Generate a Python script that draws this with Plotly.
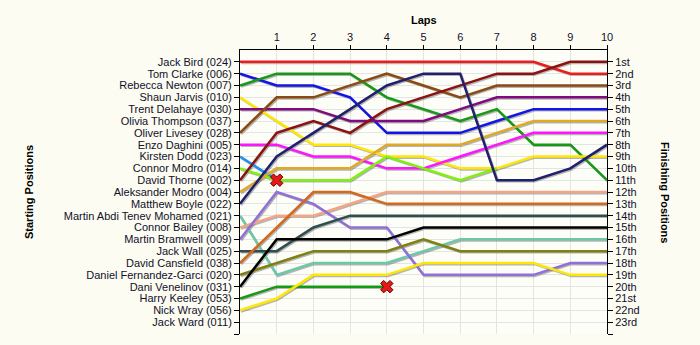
import plotly.graph_objects as go

# Lap numbers (0 = grid/start)
laps = [0, 1, 2, 3, 4, 5, 6, 7, 8, 9, 10]

# Drivers in starting-grid order
drivers = [
    "Jack Bird (024)", "Tom Clarke (006)", "Rebecca Newton (007)", "Shaun Jarvis (010)",
    "Trent Delahaye (030)", "Olivia Thompson (037)", "Oliver Livesey (028)",
    "Enzo Daghini (005)", "Kirsten Dodd (023)", "Connor Modro (014)", "David Thorne (002)",
    "Aleksander Modro (004)", "Matthew Boyle (022)", "Martin Abdi Tenev Mohamed (021)",
    "Connor Bailey (008)", "Martin Bramwell (009)", "Jack Wall (025)",
    "David Cansfield (038)", "Daniel Fernandez-Garci (020)", "Dani Venelinov (031)",
    "Harry Keeley (053)", "Nick Wray (056)", "Jack Ward (011)",
]

finish_labels = [
    "1st", "2nd", "3rd", "4th", "5th", "6th", "7th", "8th", "9th", "10th", "11th",
    "12th", "13th", "14th", "15th", "16th", "17th", "18th", "19th", "20th", "21st",
    "22nd", "23rd",
]

# Position at each lap (None = no longer running)
pos_jack_bird = [1, 1, 1, 1, 1, 1, 1, 1, 1, 2, 2]
pos_tom_clarke = [2, 3, 3, 4, 7, 7, 7, 6, 5, 5, 5]
pos_rebecca_newton = [3, 2, 2, 2, 4, 5, 6, 5, 8, 8, 11]
pos_shaun_jarvis = [4, 6, 8, 8, 9, 9, 10, 10, 9, 9, 9]
pos_trent_delahaye = [5, 5, 5, 6, 6, 6, 5, 4, 4, 4, 4]
pos_oliver_livesey = [7, 4, 4, 3, 2, 3, 4, 3, 3, 3, 3]
pos_enzo_daghini = [8, 8, 9, 9, 10, 10, 9, 8, 7, 7, 7]
pos_kirsten_dodd = [9, 11, None, None, None, None, None, None, None, None, None]
pos_connor_modro = [10, 11, 11, 11, 9, 10, 11, 10, None, None, None]
pos_david_thorne = [11, 7, 6, 7, 5, 4, 3, 2, 2, 1, 1]
pos_aleksander_modro = [12, 10, 10, 10, 8, 8, 8, 7, 6, 6, 6]
pos_matthew_boyle = [13, 9, 7, 5, 3, 2, 2, 11, 11, 10, 8]
pos_martin_mohamed = [14, 19, 18, 18, 18, 17, 16, 16, 16, 16, 16]
pos_connor_bailey = [15, 14, 14, 13, 12, 12, 12, 12, 12, 12, 12]
pos_martin_bramwell = [16, 12, 13, 15, 15, 19, 19, 19, 19, 18, 18]
pos_jack_wall = [17, 17, 15, 14, 14, 14, 14, 14, 14, 14, 14]
pos_david_cansfield = [18, 15, 12, 12, 13, 13, 13, 13, 13, 13, 13]
pos_daniel_fernandez = [19, 18, 17, 17, 17, 16, 17, 17, 17, 17, 17]
pos_dani_venelinov = [20, 16, 16, 16, 16, 15, 15, 15, 15, 15, 15]
pos_harry_keeley = [21, 20, 20, 20, 20, None, None, None, None, None, None]
pos_nick_wray = [22, 21, 19, 19, 19, 18, 18, 18, 18, 19, 19]

# (driver, positions, colour); drawn in this order
series = [
    ("Jack Bird (024)", pos_jack_bird, "#ee1c1c"),
    ("Tom Clarke (006)", pos_tom_clarke, "#1414e6"),
    ("Rebecca Newton (007)", pos_rebecca_newton, "#159a15"),
    ("Shaun Jarvis (010)", pos_shaun_jarvis, "#ffe60a"),
    ("Trent Delahaye (030)", pos_trent_delahaye, "#800a80"),
    ("Oliver Livesey (028)", pos_oliver_livesey, "#8b4a12"),
    ("Enzo Daghini (005)", pos_enzo_daghini, "#ff14ff"),
    ("Kirsten Dodd (023)", pos_kirsten_dodd, "#2090f0"),
    ("Connor Modro (014)", pos_connor_modro, "#80f010"),
    ("Aleksander Modro (004)", pos_aleksander_modro, "#e0aa28"),
    ("Martin Abdi Tenev Mohamed (021)", pos_martin_mohamed, "#6cc8a8"),
    ("Connor Bailey (008)", pos_connor_bailey, "#f5a585"),
    ("Martin Bramwell (009)", pos_martin_bramwell, "#9070d8"),
    ("Jack Wall (025)", pos_jack_wall, "#2f4f4f"),
    ("David Cansfield (038)", pos_david_cansfield, "#d2691e"),
    ("Daniel Fernandez-Garci (020)", pos_daniel_fernandez, "#808010"),
    ("Dani Venelinov (031)", pos_dani_venelinov, "#000000"),
    ("Harry Keeley (053)", pos_harry_keeley, "#159a15"),
    ("Nick Wray (056)", pos_nick_wray, "#ffe60a"),
    ("David Thorne (002)", pos_david_thorne, "#8b1212"),
    ("Matthew Boyle (022)", pos_matthew_boyle, "#20206e"),
]

# Drivers that retired on track get a cross at their last lap
retired = ["Kirsten Dodd (023)", "Harry Keeley (053)"]

n_pos = len(drivers)
fig = go.Figure()

# soft drop shadow under each line
for name, pos, col in series:
    fig.add_trace(go.Scatter(
        x=[None if p is None else l + 0.03 for l, p in zip(laps, pos)],
        y=[None if p is None else p + 0.1 for p in pos],
        mode="lines", line=dict(color="rgba(90,90,90,0.45)", width=2.5),
        hoverinfo="skip", showlegend=False,
    ))

for name, pos, col in series:
    fig.add_trace(go.Scatter(
        x=laps, y=pos, mode="lines", name=name,
        line=dict(color=col, width=2.5),
        connectgaps=False, showlegend=False,
    ))

# retirement markers
rx, ry = [], []
for name, pos, col in series:
    if name in retired:
        last = max(i for i, p in enumerate(pos) if p is not None)
        rx.append(laps[last])
        ry.append(pos[last])
fig.add_trace(go.Scatter(
    x=rx, y=ry, mode="markers",
    marker=dict(symbol="x", size=11, color="#e81818",
                line=dict(color="#6a0000", width=1)),
    showlegend=False,
))

# carrier for the right-hand axis
fig.add_trace(go.Scatter(x=[None], y=[None], yaxis="y2", mode="none",
                         showlegend=False, hoverinfo="skip"))

font_family = "Liberation Sans, Arial, sans-serif"
text_col = "#10102a"
grid_col = "#e4e4e4"

ticks_y = list(range(1, n_pos + 2))

fig.update_layout(
    width=700, height=345,
    margin=dict(l=240, r=93, t=50, b=11),
    paper_bgcolor="#fcfcf2",
    plot_bgcolor="#fefef8",
    font=dict(family=font_family, size=11, color=text_col),
    xaxis=dict(
        side="top", range=[0, 10], tickvals=laps[1:],
        ticktext=[str(l) for l in laps[1:]],
        showgrid=True, gridcolor=grid_col, gridwidth=1,
        showline=True, linecolor="black", linewidth=1,
        ticks="outside", ticklen=4, tickcolor="black",
        zeroline=False, fixedrange=True,
    ),
    yaxis=dict(
        range=[n_pos + 1, 0], tickvals=ticks_y,
        ticktext=drivers + [""],
        showgrid=True, gridcolor=grid_col, gridwidth=1,
        showline=True, linecolor="black", linewidth=1,
        ticks="outside", ticklen=5, tickcolor="black",
        zeroline=False, fixedrange=True,
    ),
    yaxis2=dict(
        overlaying="y", side="right", anchor="x",
        range=[n_pos + 1, 0], tickvals=ticks_y,
        ticktext=finish_labels + [""],
        showgrid=False,
        showline=True, linecolor="black", linewidth=1,
        ticks="outside", ticklen=5, tickcolor="black",
        zeroline=False, fixedrange=True,
    ),
    annotations=[
        dict(text="<b>Laps</b>", xref="paper", yref="paper", x=0.5, y=1,
             yshift=38, showarrow=False, font=dict(size=11, color="black")),
        dict(text="<b>Starting Positions</b>", xref="paper", yref="paper",
             x=0, xshift=-219, y=0.5, textangle=-90, showarrow=False,
             font=dict(size=11, color="black")),
        dict(text="<b>Finishing Positions</b>", xref="paper", yref="paper",
             x=1, xshift=66, y=0.5, textangle=90, showarrow=False,
             font=dict(size=11, color="black")),
    ],
)

fig.write_html("out.html")
